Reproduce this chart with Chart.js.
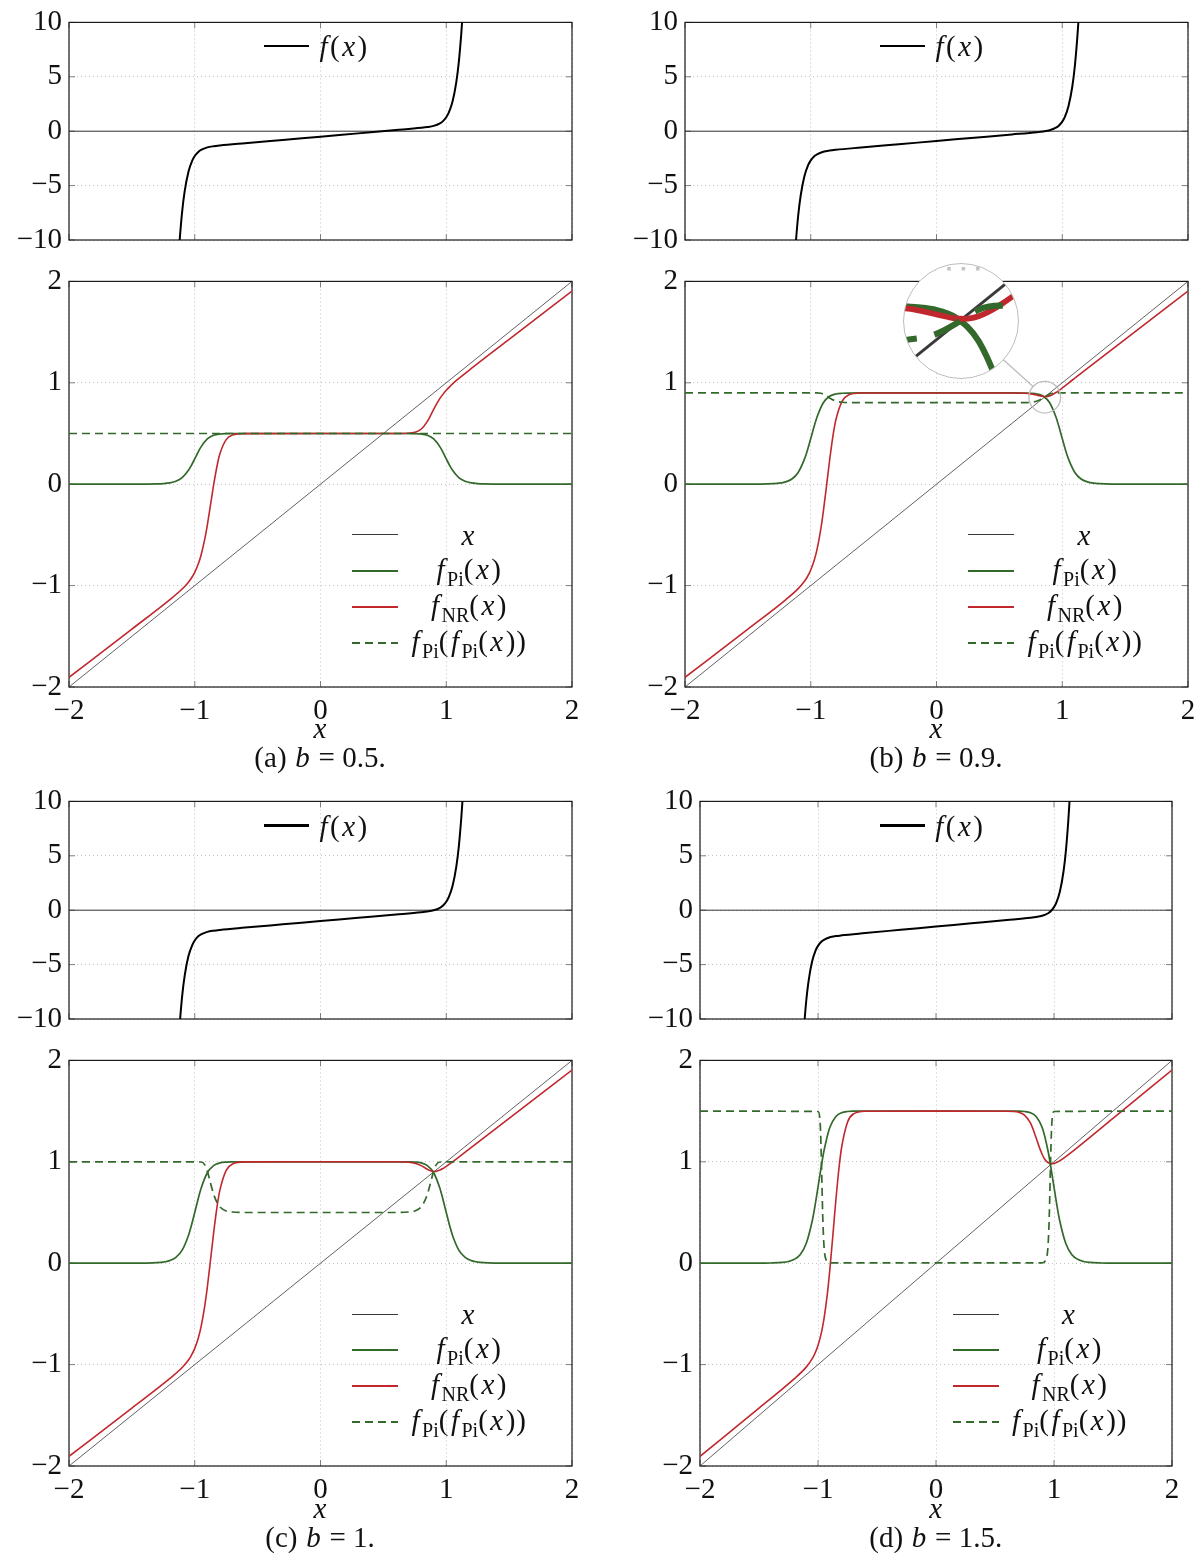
<!DOCTYPE html>
<html>
<head>
<meta charset="utf-8">
<title>f, f_Pi and f_NR for four values of b</title>
<script src="https://cdn.jsdelivr.net/npm/chart.js@4.4.1/dist/chart.umd.min.js"></script>
<style>
  body { margin: 0; background: #fff; }
  #page { position: relative; width: 1200px; height: 1553px; overflow: hidden; font-family: 'Liberation Serif', 'DejaVu Serif', serif; color: #111; }
  #page canvas { position: absolute; }
  .t { position: absolute; white-space: nowrap; font-size: 29px; line-height: 29px; transform: translate(-50%, -50%); }
  .t i { padding: 0 1.5px; }
  .lg { letter-spacing: 1px; }
  .s { font-size: 20px; position: relative; top: 7px; font-style: normal; letter-spacing: 0; }
  .smp { position: absolute; }
  .lens { position: absolute; border-radius: 50%; overflow: hidden; border: 1.5px solid #bdbdbd; background: #fff; }
  .lens canvas { left: 0; top: 0; }
</style>
</head>
<body>
<div id="page"></div>
<script>
// tick values
const xTickVals = [-2, -1, 0, 1, 2];
const fTickVals = [-10, -5, 0, 5, 10];
const mapTickVals = [-2, -1, 0, 1, 2];

const bLabels = ['0.5', '0.9', '1', '1.5'];

// f(x), top row
const fX = [-1.14, -1.13, -1.12, -1.1, -1.08, -1.05, -1.02, -1.0, -0.97, -0.95, -0.9, -0.85, -0.8, -0.6, -0.3, 0, 0.3, 0.6, 0.8, 0.85, 0.9, 0.95, 0.97, 1.0, 1.02, 1.05, 1.08, 1.1, 1.12, 1.13, 1.14];
const fA = [-13.85, -11.73, -10.04, -7.37, -5.51, -3.72, -2.70, -2.28, -1.88, -1.72, -1.49, -1.38, -1.31, -1.1, -0.8, -0.5, -0.2, 0.1, 0.31, 0.38, 0.49, 0.72, 0.88, 1.28, 1.70, 2.72, 4.51, 6.37, 9.04, 10.73, 12.85];
const fB = [-14.25, -12.13, -10.44, -7.77, -5.91, -4.12, -3.10, -2.68, -2.28, -2.12, -1.89, -1.78, -1.71, -1.5, -1.2, -0.9, -0.6, -0.3, -0.09, -0.02, 0.09, 0.32, 0.48, 0.88, 1.30, 2.32, 4.11, 5.97, 8.64, 10.33, 12.45];
const fC = [-14.35, -12.23, -10.54, -7.87, -6.01, -4.22, -3.20, -2.78, -2.38, -2.22, -1.99, -1.88, -1.81, -1.6, -1.3, -1.0, -0.7, -0.4, -0.19, -0.12, -0.01, 0.22, 0.38, 0.78, 1.20, 2.22, 4.01, 5.87, 8.54, 10.23, 12.35];
const fD = [-14.85, -12.73, -11.04, -8.37, -6.51, -4.72, -3.70, -3.28, -2.88, -2.72, -2.49, -2.38, -2.31, -2.1, -1.8, -1.5, -1.2, -0.9, -0.69, -0.62, -0.51, -0.28, -0.12, 0.28, 0.70, 1.72, 3.51, 5.37, 8.04, 9.73, 11.85];

// f_Pi(x)
const fpiX = [-2, -1.5, -1.4, -1.3, -1.25, -1.2, -1.15, -1.1, -1.05, -1.03, -1.0, -0.97, -0.95, -0.9, -0.85, -0.8, -0.75, -0.7, -0.6, 0, 0.6, 0.7, 0.75, 0.8, 0.85, 0.9, 0.95, 0.97, 1.0, 1.03, 1.05, 1.1, 1.15, 1.2, 1.25, 1.3, 1.4, 1.5, 2];
const fpiA = [0, 0, 0.001, 0.003, 0.006, 0.013, 0.029, 0.065, 0.137, 0.178, 0.25, 0.324, 0.368, 0.446, 0.482, 0.495, 0.499, 0.5, 0.5, 0.5, 0.5, 0.5, 0.499, 0.495, 0.482, 0.446, 0.368, 0.324, 0.25, 0.178, 0.137, 0.065, 0.029, 0.013, 0.006, 0.003, 0.001, 0, 0];
const fpiB = [0, 0, 0.001, 0.005, 0.01, 0.023, 0.051, 0.116, 0.247, 0.32, 0.45, 0.583, 0.662, 0.803, 0.867, 0.89, 0.897, 0.899, 0.9, 0.9, 0.9, 0.899, 0.897, 0.89, 0.867, 0.803, 0.662, 0.583, 0.45, 0.32, 0.247, 0.116, 0.051, 0.023, 0.01, 0.005, 0.001, 0, 0];
const fpiC = [0, 0, 0.001, 0.005, 0.011, 0.025, 0.057, 0.129, 0.274, 0.356, 0.5, 0.648, 0.736, 0.892, 0.963, 0.989, 0.997, 0.999, 1, 1, 1, 0.999, 0.997, 0.989, 0.963, 0.892, 0.736, 0.648, 0.5, 0.356, 0.274, 0.129, 0.057, 0.025, 0.011, 0.005, 0.001, 0, 0];
const fpiD = [0, 0, 0.002, 0.008, 0.017, 0.038, 0.086, 0.194, 0.411, 0.534, 0.75, 0.972, 1.104, 1.338, 1.445, 1.484, 1.496, 1.499, 1.5, 1.5, 1.5, 1.499, 1.496, 1.484, 1.445, 1.338, 1.104, 0.972, 0.75, 0.534, 0.411, 0.194, 0.086, 0.038, 0.017, 0.008, 0.002, 0, 0];

// f_NR(x)
const nrX = [-2, -1.5, -1.2, -1.1, -1.05, -1.03, -1.0, -0.97, -0.95, -0.92, -0.9, -0.87, -0.85, -0.82, -0.8, -0.75, -0.7, -0.6, 0, 0.6, 0.7, 0.75, 0.8, 0.85, 0.87, 0.9, 0.92, 0.95, 0.97, 1.0, 1.03, 1.05, 1.1, 1.2, 1.5, 2];
const nrA = [-1.905, -1.429, -1.140, -1.034, -0.966, -0.933, -0.869, -0.780, -0.700, -0.540, -0.403, -0.168, -0.009, 0.197, 0.300, 0.440, 0.485, 0.499, 0.5, 0.5, 0.502, 0.511, 0.542, 0.620, 0.665, 0.738, 0.784, 0.846, 0.881, 0.926, 0.965, 0.989, 1.043, 1.142, 1.429, 1.905];
const nrB = [-1.905, -1.429, -1.140, -1.030, -0.957, -0.920, -0.846, -0.740, -0.642, -0.442, -0.270, 0.031, 0.236, 0.503, 0.636, 0.820, 0.880, 0.899, 0.9, 0.9, 0.897, 0.891, 0.878, 0.865, 0.864, 0.871, 0.882, 0.904, 0.921, 0.949, 0.978, 0.998, 1.046, 1.142, 1.429, 1.905];
const nrC = [-1.905, -1.429, -1.139, -1.029, -0.955, -0.916, -0.840, -0.730, -0.628, -0.418, -0.236, 0.081, 0.297, 0.579, 0.720, 0.915, 0.979, 0.999, 1, 1.0, 0.996, 0.986, 0.962, 0.926, 0.913, 0.905, 0.906, 0.919, 0.931, 0.955, 0.982, 1.0, 1.047, 1.143, 1.429, 1.905];
const nrD = [-1.905, -1.429, -1.139, -1.025, -0.944, -0.900, -0.811, -0.679, -0.555, -0.296, -0.069, 0.330, 0.603, 0.961, 1.141, 1.391, 1.472, 1.499, 1.5, 1.499, 1.489, 1.461, 1.383, 1.232, 1.162, 1.072, 1.028, 0.991, 0.982, 0.984, 0.998, 1.011, 1.052, 1.143, 1.429, 1.905];

// f_Pi(f_Pi(x))
const ppXA = [-2, 2];
const ppA = [0.5, 0.5];
const ppXB = [-2, -0.95, -0.92, -0.9, -0.87, -0.85, -0.8, -0.75, -0.7, 0.7, 0.75, 0.8, 0.85, 0.87, 0.9, 0.92, 0.95, 2];
const ppB = [0.9, 0.9, 0.897, 0.889, 0.868, 0.851, 0.820, 0.808, 0.804, 0.804, 0.808, 0.820, 0.851, 0.868, 0.889, 0.897, 0.9, 0.9];
const ppXC = [-2, -0.95, -0.92, -0.9, -0.87, -0.85, -0.82, -0.8, -0.75, -0.7, -0.6, 0.6, 0.7, 0.75, 0.8, 0.82, 0.85, 0.87, 0.9, 0.92, 0.95, 2];
const ppC = [1, 0.998, 0.97, 0.908, 0.768, 0.680, 0.592, 0.555, 0.515, 0.505, 0.5, 0.5, 0.505, 0.515, 0.555, 0.592, 0.680, 0.768, 0.908, 0.97, 0.998, 1];
const ppXD = [-2, -1.0, -0.98, -0.97, -0.96, -0.95, -0.93, -0.9, 0.9, 0.93, 0.95, 0.96, 0.97, 0.98, 1.0, 2];
const ppD = [1.5, 1.496, 1.347, 0.957, 0.47, 0.182, 0.029, 0.004, 0.004, 0.029, 0.182, 0.47, 0.957, 1.347, 1.496, 1.5];

// reference lines
const idX = [-2, 2], idY = [-2, 2];
const zeroX = [-2, 2], zeroY = [0, 0];

// magnified spot in (b)
const spyAt = [0.861, 0.858];

const SERIF = "'Liberation Serif', 'DejaVu Serif', serif";
const GREEN = '#33692b', RED = '#c0282d', GRID = '#c4c4c4';
const LENS = { dx: -83.6, dy: -75.7, r: 57, zoom: 3.6 };

const panels = [
  { tag: 'a', b: bLabels[0], l: 68.5, r: 571.5, top: 19.5, f: fA, fpi: fpiA, nr: nrA, ppX: ppXA, pp: ppA },
  { tag: 'b', b: bLabels[1], l: 684.5, r: 1187.5, top: 19.5, f: fB, fpi: fpiB, nr: nrB, ppX: ppXB, pp: ppB, spy: true },
  { tag: 'c', b: bLabels[2], l: 68.5, r: 571.5, top: 799, f: fC, fpi: fpiC, nr: nrC, ppX: ppXC, pp: ppC },
  { tag: 'd', b: bLabels[3], l: 699.5, r: 1172, top: 799, f: fD, fpi: fpiD, nr: nrD, ppX: ppXD, pp: ppD }
];

const page = document.getElementById('page');
const pts = (xs, ys) => xs.map((x, i) => ({ x, y: ys[i] }));
const minus = v => String(v).replace('-', '\u2212');

function line(xs, ys, color, width, order, dash) {
  return {
    data: pts(xs, ys), borderColor: color, borderWidth: width, borderDash: dash || [],
    pointRadius: 0, cubicInterpolationMode: 'monotone', fill: false, order
  };
}

function mapLines(p, k) {
  return [
    line(p.ppX, p.pp, GREEN, 1.7 * k, 1, [8 * k, 5 * k]),
    line(nrX, p.nr, RED, 1.6 * k, 2),
    line(fpiX, p.fpi, GREEN, 1.7 * k, 3),
    line(idX, idY, '#3a3a3a', 0.8 * k, 4)
  ];
}

// box round the plot plus the short inner tick marks
const frame = {
  id: 'frame',
  beforeDatasetsDraw(chart) {
    const { ctx, chartArea: a, scales: { x, y } } = chart;
    ctx.save();
    ctx.strokeStyle = '#808080';
    ctx.lineWidth = 1;
    ctx.beginPath();
    for (const t of x.ticks) {
      const px = x.getPixelForValue(t.value);
      ctx.moveTo(px, a.top); ctx.lineTo(px, a.top + 6);
      ctx.moveTo(px, a.bottom); ctx.lineTo(px, a.bottom - 6);
    }
    for (const t of y.ticks) {
      const py = y.getPixelForValue(t.value);
      ctx.moveTo(a.left, py); ctx.lineTo(a.left + 6, py);
      ctx.moveTo(a.right, py); ctx.lineTo(a.right - 6, py);
    }
    ctx.stroke();
    ctx.strokeStyle = '#1a1a1a';
    ctx.lineWidth = 1.2;
    ctx.strokeRect(a.left, a.top, a.width, a.height);
    ctx.restore();
  }
};

// small circle and the connector towards the lens
const spot = {
  id: 'spot',
  afterDatasetsDraw(chart) {
    const { ctx, scales: { x, y } } = chart;
    const sx = x.getPixelForValue(spyAt[0]), sy = y.getPixelForValue(spyAt[1]);
    const r = LENS.r / LENS.zoom, d = Math.hypot(LENS.dx, LENS.dy);
    const ux = LENS.dx / d, uy = LENS.dy / d;
    ctx.save();
    ctx.strokeStyle = '#bdbdbd';
    ctx.lineWidth = 1.3;
    ctx.beginPath(); ctx.arc(sx, sy, r, 0, 2 * Math.PI); ctx.stroke();
    ctx.beginPath();
    ctx.moveTo(sx + ux * r, sy + uy * r);
    ctx.lineTo(sx + ux * (d - LENS.r), sy + uy * (d - LENS.r));
    ctx.stroke();
    ctx.restore();
  }
};

function axis(min, max, vals, labels, fit) {
  return {
    type: 'linear', min, max,
    afterBuildTicks: s => { s.ticks = vals.map(v => ({ value: v })); },
    afterFit: fit,
    ticks: { display: labels, padding: 7, color: '#111', font: { family: SERIF, size: 29 }, callback: minus },
    grid: { color: GRID, lineWidth: 1, drawTicks: false },
    border: { display: false, dash: [1, 3] }
  };
}

function makeChart(rect, yMin, yMax, yVals, xLabels, datasets, extra) {
  const mL = 68, mT = 22, mR = 22, mB = xLabels ? 46 : 26;
  const cv = document.createElement('canvas');
  cv.width = rect.r - rect.l + mL + mR;
  cv.height = rect.b - rect.t + mT + mB;
  cv.style.left = (rect.l - mL) + 'px';
  cv.style.top = (rect.t - mT) + 'px';
  page.appendChild(cv);
  return new Chart(cv, {
    type: 'line',
    data: { datasets },
    options: {
      responsive: false, animation: false, devicePixelRatio: 1,
      layout: { padding: { left: mL - 62, top: mT, right: mR, bottom: 0 } },
      plugins: { legend: { display: false }, tooltip: { enabled: false } },
      scales: {
        x: axis(-2, 2, xTickVals, xLabels, s => { s.height = mB; }),
        y: axis(yMin, yMax, yVals, true, s => { s.width = 62; })
      }
    },
    plugins: [frame].concat(extra || [])
  });
}

function lens(chart, p) {
  const { x, y } = chart.scales;
  const R = LENS.r, Z = LENS.zoom;
  const cx = chart.canvas.offsetLeft + x.getPixelForValue(spyAt[0]) + LENS.dx;
  const cy = chart.canvas.offsetTop + y.getPixelForValue(spyAt[1]) + LENS.dy;
  const hx = R / (Z * (x.getPixelForValue(1) - x.getPixelForValue(0)));
  const hy = R / (Z * (y.getPixelForValue(0) - y.getPixelForValue(1)));
  const wrap = document.createElement('div');
  wrap.className = 'lens';
  wrap.style.left = (cx - R - 1.5) + 'px';
  wrap.style.top = (cy - R - 1.5) + 'px';
  wrap.style.width = wrap.style.height = (2 * R) + 'px';
  const cv = document.createElement('canvas');
  cv.width = cv.height = 2 * R;
  wrap.appendChild(cv);
  page.appendChild(wrap);
  new Chart(cv, {
    type: 'line',
    data: { datasets: mapLines(p, Z) },
    options: {
      responsive: false, animation: false, devicePixelRatio: 1,
      layout: { padding: 0 },
      plugins: { legend: { display: false }, tooltip: { enabled: false } },
      scales: {
        x: { type: 'linear', display: false, min: spyAt[0] - hx, max: spyAt[0] + hx },
        y: {
          type: 'linear', min: spyAt[1] - hy, max: spyAt[1] + hy,
          afterBuildTicks: s => { s.ticks = [{ value: 1 }]; },
          afterFit: s => { s.width = 0; },
          ticks: { display: false },
          grid: { color: GRID, lineWidth: Z, drawTicks: false },
          border: { display: false, dash: [Z, 3 * Z] }
        }
      }
    }
  });
}

function addText(html, x, y, left, cls) {
  const d = document.createElement('div');
  d.className = 't' + (cls ? ' ' + cls : '');
  d.innerHTML = html;
  d.style.left = x + 'px';
  d.style.top = y + 'px';
  if (left) d.style.transform = 'translate(0, -50%)';
  page.appendChild(d);
}

function addSample(x, y, w, h, color, dashed) {
  const d = document.createElement('div');
  d.className = 'smp';
  d.style.left = x + 'px';
  d.style.top = (y - h / 2) + 'px';
  d.style.width = w + 'px';
  d.style.height = h + 'px';
  d.style.background = dashed
    ? `repeating-linear-gradient(to right, ${color} 0 8px, transparent 8px 13px)`
    : color;
  page.appendChild(d);
}

const fPi = '<i>f</i><span class="s">Pi</span>';
const legendRows = [
  { html: '<i>x</i>', color: '#3a3a3a', h: 1 },
  { html: fPi + '(<i>x</i>)', color: GREEN, h: 2 },
  { html: '<i>f</i><span class="s">NR</span>(<i>x</i>)', color: RED, h: 2 },
  { html: fPi + '(' + fPi + '(<i>x</i>))', color: GREEN, h: 2, dashed: true }
];
const legendDy = [256, 292, 328, 364];

for (const p of panels) {
  const topRect = { l: p.l, r: p.r, t: p.top, b: p.top + 220 };
  const botRect = { l: p.l, r: p.r, t: p.top + 259, b: p.top + 667 };
  const cx = (p.l + p.r) / 2;

  makeChart(topRect, -10, 10, fTickVals, false, [
    line(fX, p.f, '#000', 2, 1),
    line(zeroX, zeroY, '#333', 1, 2)
  ]);
  const chart = makeChart(botRect, -2, 2, mapTickVals, true, mapLines(p, 1), p.spy ? [spot] : []);

  addText('<i>x</i>', cx, botRect.b + 41.5);
  addText(`(${p.tag}) <i>b</i> = ${p.b}.`, cx, botRect.b + 70.5);

  addSample(cx - 56, topRect.t + 26.5, 45, 2.2, '#000');
  addText('<i>f</i>(<i>x</i>)', cx - 2, topRect.t + 26.5, true, 'lg');

  legendRows.forEach((row, i) => {
    const y = botRect.t + legendDy[i];
    addSample(p.r - 219.5, y, 46, row.h, row.color, row.dashed);
    addText(row.html, p.r - 103, y, false, 'lg');
  });

  if (p.spy) lens(chart, p);
}
</script>
</body>
</html>
